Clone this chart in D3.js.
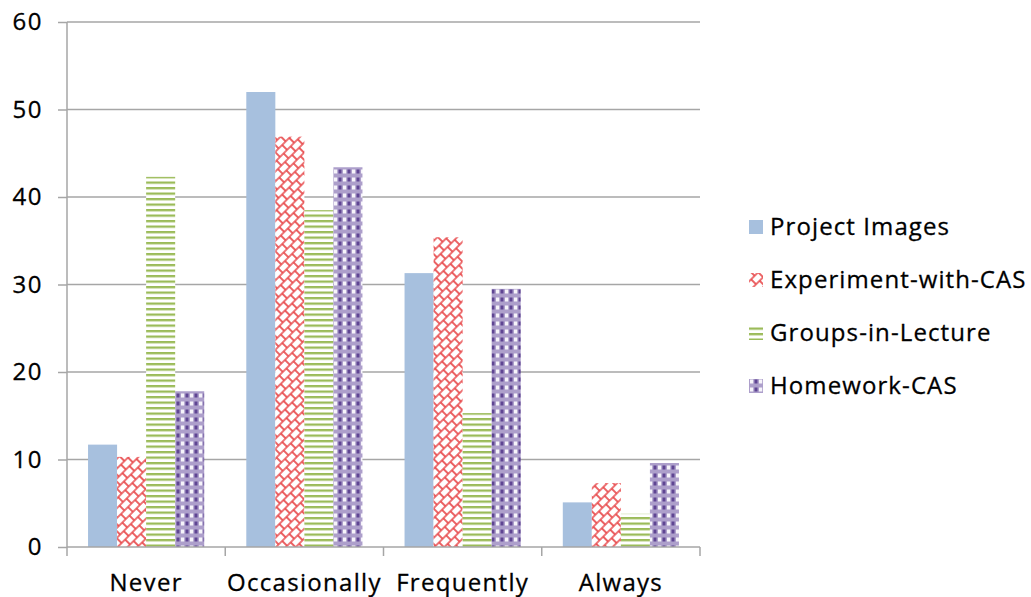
<!DOCTYPE html>
<html><head><meta charset="utf-8">
<script src="https://cdn.jsdelivr.net/npm/d3@7"></script>
<style>body{margin:0;background:#fff}svg{display:block}</style>
</head><body>
<svg id="c" width="1031" height="597"></svg>
<script>
const categories = ["Never","Occasionally","Frequently","Always"];
const seriesNames = ["Project Images","Experiment-with-CAS","Groups-in-Lecture","Homework-CAS"];
const projectImages = [11.7, 52.0, 31.3, 5.1];
const experimentWithCAS = [10.3, 46.9, 35.4, 7.3];
const groupsInLecture = [42.3, 38.5, 15.3, 3.8];
const homeworkCAS = [17.8, 43.4, 29.5, 9.6];
const yTicks = [0,10,20,30,40,50,60];
const seriesValues = [projectImages, experimentWithCAS, groupsInLecture, homeworkCAS];

const svg = d3.select("#c");
const font = "'Open Sans', sans-serif";
const m = {l:67, r:700, t:22, b:547};
const x = d3.scaleBand().domain(categories).range([m.l, m.r]).paddingInner(0.266).paddingOuter(0.133);
const xs = d3.scaleBand().domain(seriesNames).range([0, x.bandwidth()]);
const y = d3.scaleLinear().domain([0,60]).range([m.b, m.t]);

const defs = svg.append("defs");
// red diagonal brick
const pr = defs.append("pattern").attr("id","pRed").attr("patternUnits","userSpaceOnUse")
  .attr("width",10).attr("height",14).attr("patternTransform","rotate(-45)");
pr.append("rect").attr("width",10).attr("height",14).attr("fill","#fff");
pr.append("path").attr("d","M0,1 H10 M0,8 H10 M2,1 V8 M7,8 V15 M7,-6 V1")
  .attr("stroke","#e8484a").attr("stroke-width",1.7).attr("fill","none");
// green stripes
const pg = defs.append("pattern").attr("id","pGreen").attr("patternUnits","userSpaceOnUse").attr("width",8).attr("height",5.5);
pg.append("rect").attr("width",8).attr("height",5.5).attr("fill","#fff");
pg.append("rect").attr("y",0).attr("width",8).attr("height",2.3).attr("fill","#9bbb59");
// purple grid
const pp = defs.append("pattern").attr("id","pPurple").attr("patternUnits","userSpaceOnUse").attr("width",9).attr("height",8);
pp.append("rect").attr("width",9).attr("height",8).attr("fill","#ad9fcb");
pp.append("rect").attr("x",1).attr("y",1.5).attr("width",3.2).attr("height",4).attr("fill","#f6f4fa");
pp.append("rect").attr("x",5.5).attr("y",1.5).attr("width",3).attr("height",4).attr("fill","#5f4593");
const fills = ["#a7c0de","url(#pRed)","url(#pGreen)","url(#pPurple)"];

// gridlines
svg.append("g").selectAll("line").data(yTicks.slice(1)).join("line")
  .attr("x1",m.l).attr("x2",m.r).attr("y1",d=>y(d)).attr("y2",d=>y(d))
  .attr("stroke","#a6a6a6").attr("stroke-width",1.5);

// bars
seriesNames.forEach((s,i)=>{
  svg.append("g").selectAll("rect").data(categories).join("rect")
    .attr("x",c=>x(c)+xs(s)).attr("width",xs.bandwidth())
    .attr("y",(c,j)=>y(seriesValues[i][j])).attr("height",(c,j)=>y(0)-y(seriesValues[i][j]))
    .attr("fill",fills[i]);
});

// y axis
const ya = svg.append("g").attr("transform",`translate(${m.l},0)`)
  .call(d3.axisLeft(y).tickValues(yTicks).tickSize(9).tickPadding(15));
ya.select(".domain").attr("stroke","#a6a6a6").attr("stroke-width",1.5).attr("d",`M0,${m.t}V${m.b}`);
ya.selectAll(".tick line").attr("stroke","#a6a6a6").attr("stroke-width",1.5);
ya.selectAll("text").attr("font-family",font).attr("font-size",24).attr("letter-spacing",1.5)
  .attr("fill","#000").attr("stroke","#000").attr("stroke-width",0.3);

// x axis
const xa = svg.append("g").attr("transform",`translate(0,${m.b})`)
  .call(d3.axisBottom(x).tickSize(0).tickPadding(27));
xa.select(".domain").attr("stroke","#a6a6a6").attr("stroke-width",1.5).attr("d",`M${m.l},0H${m.r}`);
xa.selectAll("text").attr("font-family",font).attr("font-size",24).attr("letter-spacing",1.3)
  .attr("fill","#000").attr("stroke","#000").attr("stroke-width",0.3);
const step = x.step();
const bounds = d3.range(categories.length+1).map(i=>m.l+i*step);
xa.append("g").selectAll("line").data(bounds).join("line")
  .attr("x1",d=>d).attr("x2",d=>d).attr("y1",0).attr("y2",9)
  .attr("stroke","#a6a6a6").attr("stroke-width",1.5);

// legend
const lg = svg.append("g").attr("transform","translate(749,227)");
seriesNames.forEach((s,i)=>{
  const g = lg.append("g").attr("transform",`translate(0,${i*53})`);
  g.append("rect").attr("x",0).attr("y",-7).attr("width",14).attr("height",14).attr("fill",fills[i]);
  g.append("text").attr("x",21).attr("y",0).attr("dy","0.35em").attr("font-family",font).attr("font-size",24)
    .attr("letter-spacing",1.1).attr("stroke","#000").attr("stroke-width",0.3).text(s);
});
</script>
</body></html>
